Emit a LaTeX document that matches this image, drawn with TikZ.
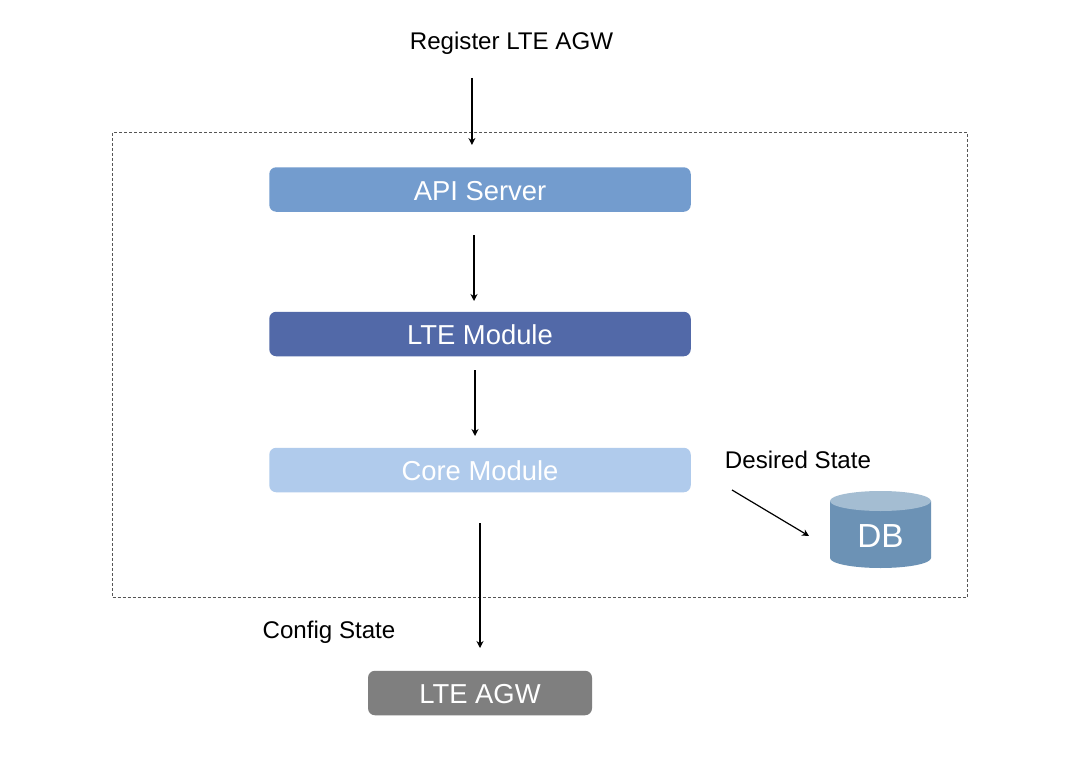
\documentclass[tikz,border=0pt]{standalone}
\usepackage{fontspec}
\setmainfont{Liberation Sans}
\usetikzlibrary{arrows.meta}
\definecolor{apiblue}{HTML}{739CCE}
\definecolor{ltemod}{HTML}{5269A8}
\definecolor{coremod}{HTML}{B0CBEC}
\definecolor{agwgray}{HTML}{7F7F7F}
\definecolor{dbbody}{HTML}{6C92B5}
\definecolor{dbtop}{HTML}{A4BDD2}
\definecolor{frameline}{HTML}{555555}
\tikzset{
  box/.style={rectangle,rounded corners=7bp,draw=none,minimum height=44.5bp,inner sep=0pt,text height=21bp,text depth=0pt,text=white,font=\fontsize{27.5}{30}\selectfont},
  label/.style={inner sep=0pt,text=black,font=\fontsize{24.2}{28}\selectfont},
  conn/.style={draw=black,line width=1.2bp,-{Stealth[length=7bp,width=7bp]}},
  frame/.style={draw=frameline,line width=0.9bp,dash pattern=on 3bp off 2bp}
}
\begin{document}
\begin{tikzpicture}[x=1bp,y=-1bp]
\useasboundingbox (0,0) rectangle (1071,762);
\fill[white] (0,0) rectangle (1071,762);
\node[frame,rectangle,inner sep=0pt,minimum width=854.5bp,minimum height=465bp] (frame) at (540,364.5) {};
\node[box,fill=apiblue,minimum width=421.5bp] (api) at (480,189.5) {API Server};
\node[box,fill=ltemod,minimum width=421.5bp] (lte) at (480,334) {LTE Module};
\node[box,fill=coremod,minimum width=421.5bp] (core) at (480,470) {Core Module};
\node[box,fill=agwgray,minimum width=224bp] (agw) at (480,693) {LTE AGW};
\node[label] (reg) at (511.5,43.5) {Register LTE AGW};
\node[label] (des) at (798,460) {Desired State};
\node[label] (cfg) at (329,632) {Config State};
% database cylinder
\fill[dbbody] (830,501) -- (830,558) arc[start angle=180,end angle=360,x radius=50.5,y radius=-10] -- (931,501) -- cycle;
\fill[dbtop] (880.5,501) ellipse[x radius=50.5,y radius=10];
\node[inner sep=0pt,text=white,font=\fontsize{33.5}{36}\selectfont] (db) at (880.5,536.5) {DB};
% connector ends
\coordinate (a0) at (471.9,78);
\coordinate (a1) at (471.9,145);
\coordinate (b0) at (474,235);
\coordinate (b1) at (474,301);
\coordinate (c0) at (475,370);
\coordinate (c1) at (475,436);
\coordinate (d0) at (480,523);
\coordinate (d1) at (480,648);
\coordinate (e0) at (732,490);
\coordinate (e1) at (809,536);
\draw[conn] (a0) -- (a1);
\draw[conn] (b0) -- (b1);
\draw[conn] (c0) -- (c1);
\draw[conn] (d0) -- (d1);
\draw[conn] (e0) -- (e1);
\end{tikzpicture}
\end{document}
